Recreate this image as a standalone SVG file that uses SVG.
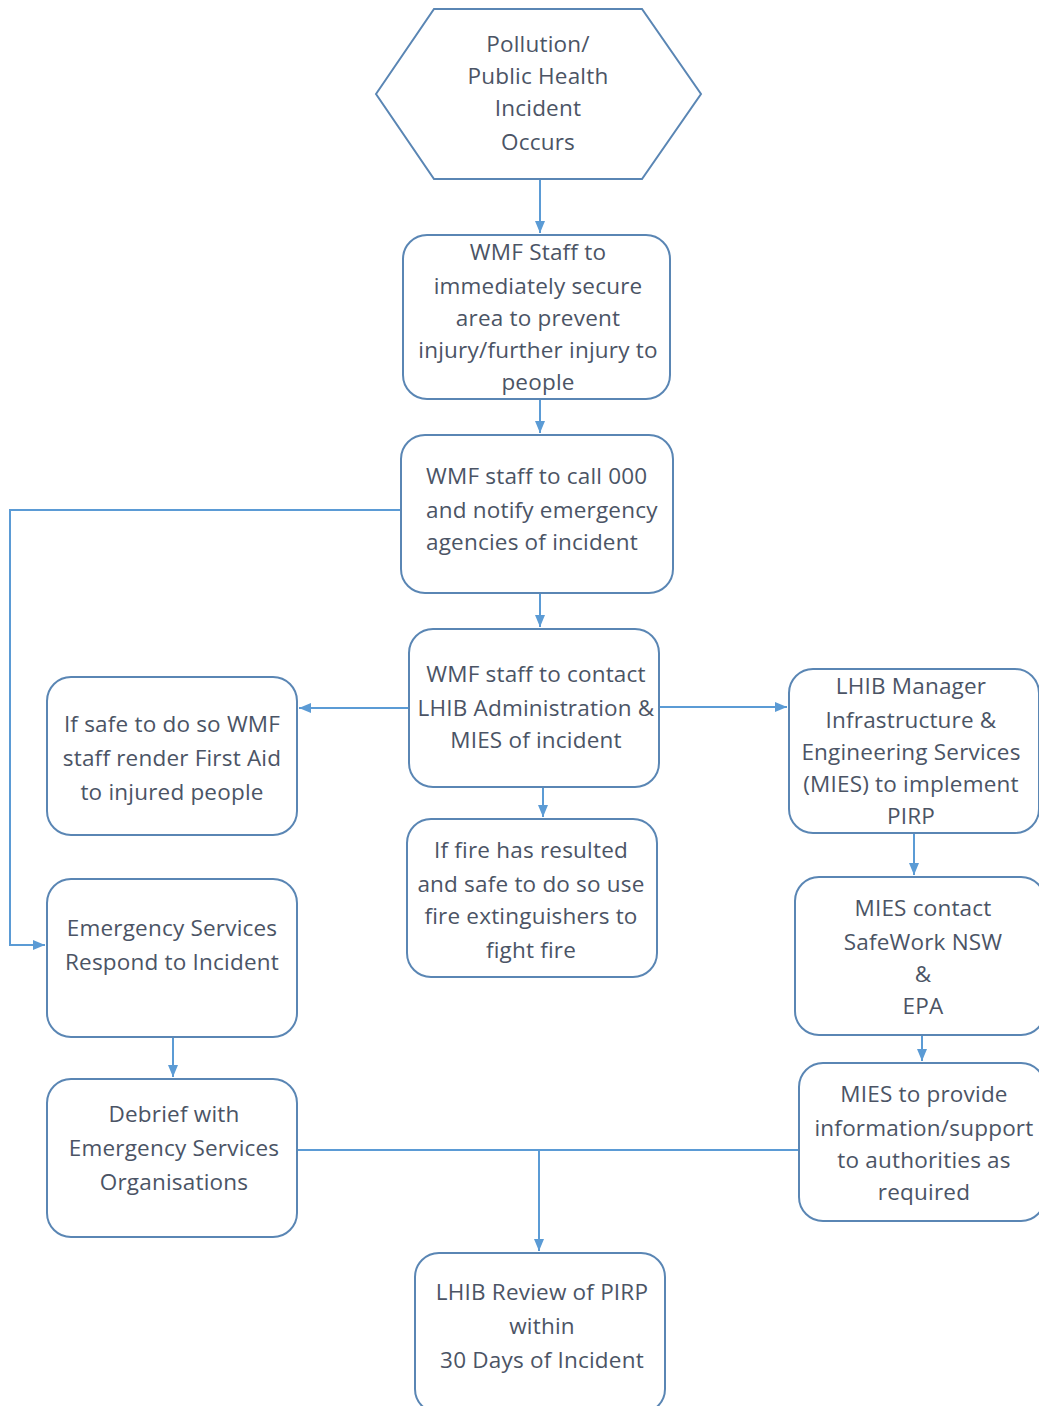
<svg xmlns="http://www.w3.org/2000/svg" width="1039" height="1406" viewBox="0 0 1039 1406">
<style>
.n{fill:#fff;stroke:#5a86b4;stroke-width:2}
.t{font-family:"Open Sans","Liberation Sans",sans-serif;font-size:22.5px;letter-spacing:0.2px;fill:#4b5465;text-anchor:middle}
.l{text-anchor:start}
.c{fill:none;stroke:#5b9bd5;stroke-width:2}
</style>
<defs>
<marker id="a" viewBox="0 0 12 10" refX="12" refY="5" markerWidth="12" markerHeight="10" markerUnits="userSpaceOnUse" orient="auto">
<path d="M0,0L12,5L0,10z" fill="#5b9bd5"/>
</marker>
</defs>
<rect width="1039" height="1406" fill="#fff"/>
<g id="connectors">
<path class="c" d="M540,179V233" marker-end="url(#a)"/>
<path class="c" d="M540,399V433" marker-end="url(#a)"/>
<path class="c" d="M401,510H10V945H45" marker-end="url(#a)"/>
<path class="c" d="M540,593V627" marker-end="url(#a)"/>
<path class="c" d="M409,708H299" marker-end="url(#a)"/>
<path class="c" d="M659,707H787" marker-end="url(#a)"/>
<path class="c" d="M543,787V817" marker-end="url(#a)"/>
<path class="c" d="M173,1037V1077" marker-end="url(#a)"/>
<path class="c" d="M914,833V875" marker-end="url(#a)"/>
<path class="c" d="M922,1035V1061" marker-end="url(#a)"/>
<path class="c" d="M297,1150H799"/>
<path class="c" d="M539,1150V1251" marker-end="url(#a)"/>
</g>
<g id="start">
<polygon class="n" points="376,94 434,9 642,9 701,94 642,179 434,179"/>
<text class="t" x="538" y="52">Pollution/</text>
<text class="t" x="538" y="84">Public Health</text>
<text class="t" x="538" y="116">Incident</text>
<text class="t" x="538" y="150">Occurs</text>
</g>
<g id="secure">
<rect class="n" x="403" y="235" width="267" height="164" rx="24"/>
<text class="t" x="538" y="260">WMF Staff to</text>
<text class="t" x="538" y="294">immediately secure</text>
<text class="t" x="538" y="326">area to prevent</text>
<text class="t" x="538" y="358">injury/further injury to</text>
<text class="t" x="538" y="390">people</text>
</g>
<g id="call">
<rect class="n" x="401" y="435" width="272" height="158" rx="24"/>
<text class="t l" x="426" y="484">WMF staff to call 000</text>
<text class="t l" x="426" y="518">and notify emergency</text>
<text class="t l" x="426" y="550">agencies of incident</text>
</g>
<g id="contact">
<rect class="n" x="409" y="629" width="250" height="158" rx="24"/>
<text class="t" x="536" y="682">WMF staff to contact</text>
<text class="t" x="536" y="716">LHIB Administration &amp;</text>
<text class="t" x="536" y="748">MIES of incident</text>
</g>
<g id="firstaid">
<rect class="n" x="47" y="677" width="250" height="158" rx="24"/>
<text class="t" x="172" y="732">If safe to do so WMF</text>
<text class="t" x="172" y="766">staff render First Aid</text>
<text class="t" x="172" y="800">to injured people</text>
</g>
<g id="manager">
<rect class="n" x="789" y="669" width="250" height="164" rx="24"/>
<text class="t" x="911" y="694">LHIB Manager</text>
<text class="t" x="911" y="728">Infrastructure &amp;</text>
<text class="t" x="911" y="760">Engineering Services</text>
<text class="t" x="911" y="792">(MIES) to implement</text>
<text class="t" x="911" y="824">PIRP</text>
</g>
<g id="fire">
<rect class="n" x="407" y="819" width="250" height="158" rx="24"/>
<text class="t" x="531" y="858">If fire has resulted</text>
<text class="t" x="531" y="892">and safe to do so use</text>
<text class="t" x="531" y="924">fire extinguishers to</text>
<text class="t" x="531" y="958">fight fire</text>
</g>
<g id="emergency">
<rect class="n" x="47" y="879" width="250" height="158" rx="24"/>
<text class="t" x="172" y="936">Emergency Services</text>
<text class="t" x="172" y="970">Respond to Incident</text>
</g>
<g id="safework">
<rect class="n" x="795" y="877" width="250" height="158" rx="24"/>
<text class="t" x="923" y="916">MIES contact</text>
<text class="t" x="923" y="950">SafeWork NSW</text>
<text class="t" x="923" y="982">&amp;</text>
<text class="t" x="923" y="1014">EPA</text>
</g>
<g id="support">
<rect class="n" x="799" y="1063" width="246" height="158" rx="24"/>
<text class="t" x="924" y="1102">MIES to provide</text>
<text class="t" x="924" y="1136">information/support</text>
<text class="t" x="924" y="1168">to authorities as</text>
<text class="t" x="924" y="1200">required</text>
</g>
<g id="debrief">
<rect class="n" x="47" y="1079" width="250" height="158" rx="24"/>
<text class="t" x="174" y="1122">Debrief with</text>
<text class="t" x="174" y="1156">Emergency Services</text>
<text class="t" x="174" y="1190">Organisations</text>
</g>
<g id="review">
<rect class="n" x="415" y="1253" width="250" height="160" rx="24"/>
<text class="t" x="542" y="1300">LHIB Review of PIRP</text>
<text class="t" x="542" y="1334">within</text>
<text class="t" x="542" y="1368">30 Days of Incident</text>
</g>
</svg>
